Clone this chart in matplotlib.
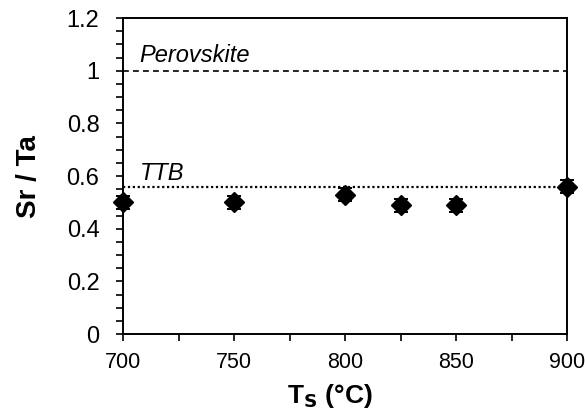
import matplotlib.pyplot as plt
from matplotlib.ticker import MultipleLocator

plt.rcParams['font.family'] = ['Liberation Sans', 'DejaVu Sans']

# Daten
temp = [700, 750, 800, 825, 850, 900]
sr_ta = [0.50, 0.50, 0.53, 0.49, 0.49, 0.56]
fehler = [0.025, 0.025, 0.025, 0.025, 0.025, 0.025]
perowskit = 1.0
ttb = 0.56

fig = plt.figure(figsize=(5.85, 4.12), dpi=100)
ax = fig.add_axes([0.2103, 0.189, 0.759, 0.767])

# Referenzlinien
ax.axhline(perowskit, color='black', lw=1.2, ls=(0, (3.5, 2.5)))
ax.axhline(ttb, color='black', lw=1.6, ls=(0, (1, 1.2)))
ax.text(707.5, 1.034, 'Perovskite', style='italic', fontsize=17)
ax.text(707.5, 0.585, 'TTB', style='italic', fontsize=17)

# Messpunkte
ax.errorbar(temp, sr_ta, yerr=fehler, fmt='D', color='black', ms=10.5,
            capsize=4.7, elinewidth=1.4, capthick=1.4, clip_on=False, zorder=5)

ax.set_xlim(700, 900)
ax.set_ylim(0, 1.2)
ax.xaxis.set_major_locator(MultipleLocator(50))
ax.xaxis.set_minor_locator(MultipleLocator(25))
ax.yaxis.set_minor_locator(MultipleLocator(0.05))
ax.set_yticks([0, 0.2, 0.4, 0.6, 0.8, 1.0, 1.2])
ax.set_yticklabels(['0', '0.2', '0.4', '0.6', '0.8', '1', '1.2'])

ax.tick_params(axis='both', which='both', direction='out', width=1.2, color='black')
ax.tick_params(axis='x', which='both', length=5, pad=8, labelsize=15.5)
ax.tick_params(axis='y', which='major', length=5, pad=12, labelsize=17)
ax.tick_params(axis='y', which='minor', length=5)
for s in ax.spines.values():
    s.set_linewidth(1.4)

ax.set_xlabel('T$_\\mathbf{S}$ (°C)', fontsize=19, fontweight='bold', labelpad=6, x=0.466)
ax.set_ylabel('Sr / Ta', fontsize=20, fontweight='bold', labelpad=18)

plt.savefig('out.png', dpi=100)
